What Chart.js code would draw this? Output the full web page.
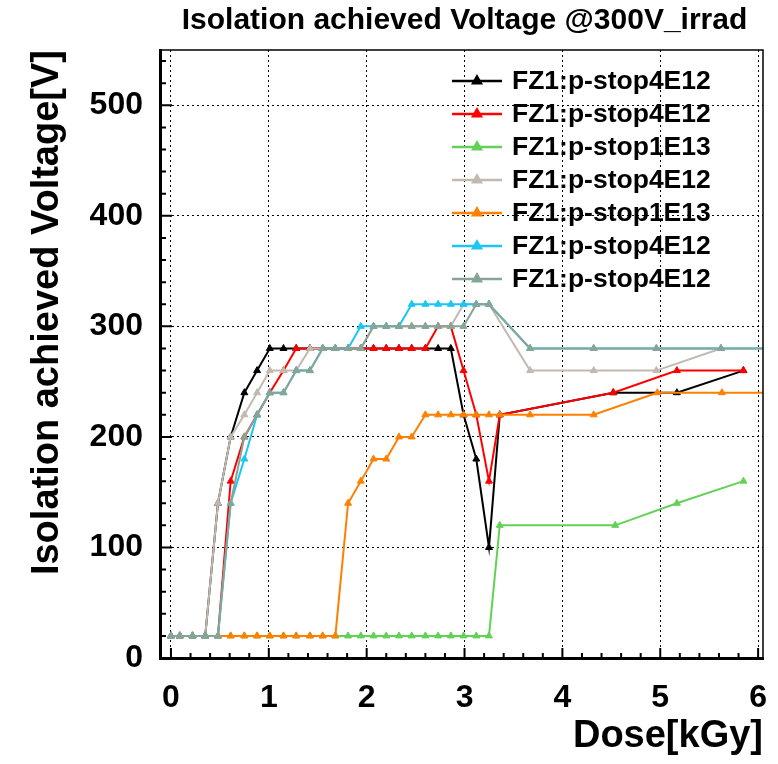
<!DOCTYPE html>
<html>
<head>
<meta charset="utf-8">
<title>Isolation achieved Voltage @300V_irrad</title>
<script src="https://cdn.jsdelivr.net/npm/chart.js@4.4.1/dist/chart.umd.min.js"></script>
<style>
    html, body { margin: 0; padding: 0; background: #ffffff; }
    #wrap { width: 778px; height: 764px; }
</style>
</head>
<body>
<div id="wrap"><canvas id="isoChart" width="778" height="764"></canvas></div>
<script>
// Dose scan points shared by the runs (kGy)
const scanDose = [0, 0.09, 0.22, 0.35, 0.48, 0.61, 0.75, 0.88, 1.01, 1.15, 1.28, 1.42, 1.55, 1.68,
                  1.81, 1.94, 2.07, 2.20, 2.33, 2.46, 2.60, 2.73, 2.86, 2.99, 3.12, 3.25, 3.36];

// Legend labels and line colours, in legend order
const runLabels = ['FZ1:p-stop4E12', 'FZ1:p-stop4E12', 'FZ1:p-stop1E13', 'FZ1:p-stop4E12',
                   'FZ1:p-stop1E13', 'FZ1:p-stop4E12', 'FZ1:p-stop4E12'];
const runColors = ['#000000', '#ff0000', '#63d157', '#c2b9b0', '#ff8000', '#1cc6f4', '#87a596'];

// Isolation voltage (V) at the scan points, then the later sparse points
const blackV = [20, 20, 20, 20, 140, 200, 240, 260, 280, 280, 280, 280, 280, 280, 280, 280, 280, 280, 280, 280, 280, 280, 280, 220, 180, 100, 220];
const blackTailDose = [4.52, 5.17, 5.85];
const blackTailV = [240, 240, 260];

const redV = [20, 20, 20, 20, 20, 160, 200, 220, 240, 260, 280, 280, 280, 280, 280, 280, 280, 280, 280, 280, 280, 300, 300, 260, 220, 160, 220];
const redTailDose = [4.52, 5.17, 5.85];
const redTailV = [240, 260, 260];

const greenV = [20, 20, 20, 20, 20, 20, 20, 20, 20, 20, 20, 20, 20, 20, 20, 20, 20, 20, 20, 20, 20, 20, 20, 20, 20, 20, 120];
const greenTailDose = [4.54, 5.17, 5.85];
const greenTailV = [120, 140, 160];

const beigeV = [20, 20, 20, 20, 140, 200, 220, 240, 260, 260, 260, 280, 280, 280, 280, 280, 300, 300, 300, 300, 300, 300, 300, 320, 320, 320];
const beigeTailDose = [3.67, 4.32, 4.96, 5.62];
const beigeTailV = [260, 260, 260, 280];

const orangeV = [20, 20, 20, 20, 20, 20, 20, 20, 20, 20, 20, 20, 20, 20, 140, 160, 180, 180, 200, 200, 220, 220, 220, 220, 220, 220, 220];
const orangeTailDose = [3.67, 4.32, 4.97, 5.63, 6.28];
const orangeTailV = [220, 220, 240, 240, 240];

const cyanV = [20, 20, 20, 20, 20, 140, 180, 220, 240, 240, 260, 260, 280, 280, 280, 300, 300, 300, 300, 320, 320, 320, 320, 320, 320, 320];
const cyanTailDose = [3.67, 4.32, 4.96, 5.62, 6.28];
const cyanTailV = [280, 280, 280, 280, 280];

const sageV = [20, 20, 20, 20, 20, 140, 200, 220, 240, 240, 260, 260, 280, 280, 280, 280, 300, 300, 300, 300, 300, 300, 300, 300, 320, 320];
const sageTailDose = [3.67, 4.32, 4.96, 5.62, 6.28];
const sageTailV = [280, 280, 280, 280, 280];

const FONT = '"Liberation Sans", Arial, Helvetica, sans-serif';

// Join scan part and tail part into {x, y} points
function buildPoints(volts, tailDose, tailVolts) {
    const pts = volts.map((v, i) => ({ x: scanDose[i], y: v }));
    tailDose.forEach((d, i) => pts.push({ x: d, y: tailVolts[i] }));
    return pts;
}

const runs = [
    buildPoints(blackV, blackTailDose, blackTailV),
    buildPoints(redV, redTailDose, redTailV),
    buildPoints(greenV, greenTailDose, greenTailV),
    buildPoints(beigeV, beigeTailDose, beigeTailV),
    buildPoints(orangeV, orangeTailDose, orangeTailV),
    buildPoints(cyanV, cyanTailDose, cyanTailV),
    buildPoints(sageV, sageTailDose, sageTailV)
];

// ROOT-like decorations: frame, inner ticks, title, legend inside the pad
const rootPad = {
    id: 'rootPad',
    afterDraw(chart) {
        const { ctx, chartArea: a, scales: { x, y } } = chart;
        ctx.save();

        // frame
        ctx.strokeStyle = '#000';
        ctx.lineWidth = 1.5;
        ctx.strokeRect(a.left, a.top, a.right - a.left, a.bottom - a.top);

        // inner tick marks
        ctx.lineWidth = 2;
        ctx.beginPath();
        for (let k = 0; k * 20 <= y.max; k++) {
            const py = y.getPixelForValue(k * 20);
            const len = k % 5 === 0 ? 12 : 6;
            ctx.moveTo(a.left, py);
            ctx.lineTo(a.left + len, py);
        }
        for (let k = 0; k * 0.2 <= x.max + 1e-9; k++) {
            const px = x.getPixelForValue(k * 0.2);
            const len = k % 5 === 0 ? 10 : 5;
            ctx.moveTo(px, a.bottom);
            ctx.lineTo(px, a.bottom - len);
        }
        ctx.stroke();

        // title
        ctx.fillStyle = '#000';
        ctx.font = 'bold 30px ' + FONT;
        ctx.textAlign = 'center';
        ctx.textBaseline = 'middle';
        ctx.fillText('Isolation achieved Voltage @300V_irrad', (a.left + a.right) / 2 + 3, 21);

        // legend
        ctx.font = 'bold 26.5px ' + FONT;
        ctx.textAlign = 'left';
        chart.data.datasets.forEach((ds, i) => {
            const ly = 81 + i * 33;
            ctx.strokeStyle = ds.borderColor;
            ctx.lineWidth = 2.5;
            ctx.beginPath();
            ctx.moveTo(452, ly);
            ctx.lineTo(502, ly);
            ctx.stroke();
            Chart.helpers.drawPoint(ctx, {
                pointStyle: 'triangle', radius: 4.5, rotation: 0, borderWidth: 1
            }, 477, ly);
            ctx.fillStyle = ds.borderColor;
            ctx.fill();
            ctx.fillStyle = '#000';
            ctx.fillText(ds.label, 512, ly + 1);
        });
        ctx.restore();
    }
};

const datasets = runs.map((pts, i) => ({
    label: runLabels[i],
    data: pts,
    borderColor: runColors[i],
    backgroundColor: runColors[i],
    borderWidth: 2,
    pointStyle: 'triangle',
    pointRadius: 4,
    pointBorderWidth: 1,
    pointBackgroundColor: runColors[i],
    pointBorderColor: runColors[i],
    tension: 0,
    fill: false,
    clip: 0,
    order: runs.length - 1 - i // later runs drawn on top, as in ROOT
}));

new Chart(document.getElementById('isoChart'), {
    type: 'line',
    data: { datasets: datasets },
    options: {
        responsive: false,
        animation: false,
        layout: { padding: { top: 50, right: 15, bottom: 0, left: 0 } },
        plugins: {
            legend: { display: false },
            title: { display: false },
            tooltip: { enabled: false }
        },
        scales: {
            x: {
                type: 'linear',
                min: -0.112,
                max: 6.05,
                afterFit: (scale) => {
                    scale.height = 106;
                    // keep the frame fixed; edge labels may overhang
                    scale.paddingLeft = 0;
                    scale.paddingRight = 0;
                },
                ticks: {
                    stepSize: 1,
                    includeBounds: false,
                    maxRotation: 0,
                    autoSkip: false,
                    padding: 21,
                    color: '#000',
                    font: { family: FONT, size: 32, weight: 'bold' }
                },
                grid: { color: '#000', lineWidth: 1, drawTicks: false },
                border: { display: true, color: '#000', width: 3, dash: [2, 3] },
                title: {
                    display: true,
                    text: 'Dose[kGy]',
                    align: 'end',
                    color: '#000',
                    padding: { top: 0, bottom: 5 },
                    font: { family: FONT, size: 38, weight: 'bold' }
                }
            },
            y: {
                type: 'linear',
                min: 0,
                max: 550,
                afterFit: (scale) => { scale.width = 160; },
                ticks: {
                    stepSize: 100,
                    includeBounds: false,
                    padding: 17,
                    color: '#000',
                    font: { family: FONT, size: 32, weight: 'bold' }
                },
                grid: { color: '#000', lineWidth: 1, drawTicks: false },
                border: { display: true, color: '#000', width: 3, dash: [2, 3] },
                title: {
                    display: true,
                    text: 'Isolation achieved Voltage[V]',
                    align: 'end',
                    color: '#000',
                    padding: { top: 25, bottom: 0 },
                    font: { family: FONT, size: 38, weight: 'bold' }
                }
            }
        }
    },
    plugins: [rootPad]
});
</script>
</body>
</html>
